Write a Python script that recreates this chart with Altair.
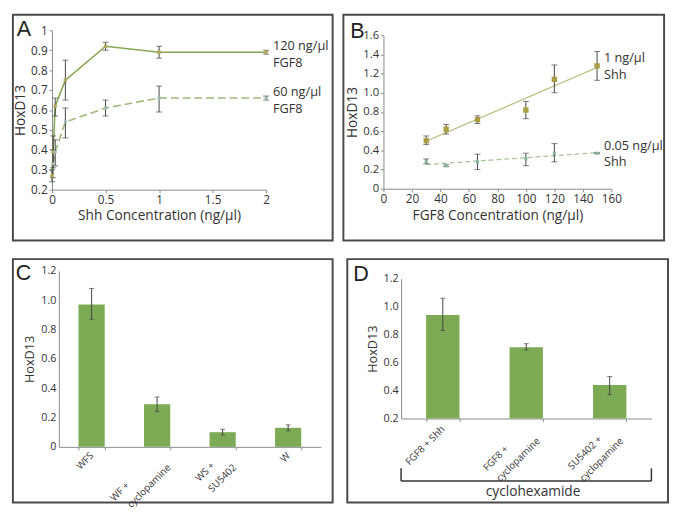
import altair as alt
import pandas as pd

FONT = "Open Sans"
TXT = "#333333"
FRAME = "#4a4a4a"
ERR = "#444444"
BLANK = "\u2800"   # blank glyph used to left-align two-line tick labels

# ---------------- data ----------------
# Panel A
a_x120 = [0, 0.01, 0.03, 0.125, 0.5, 1, 2]
a_y120 = [0.27, 0.39, 0.62, 0.75, 0.92, 0.89, 0.89]
a_lo120 = [0.24, 0.31, 0.57, 0.65, 0.90, 0.86, 0.88]
a_hi120 = [0.30, 0.47, 0.66, 0.85, 0.94, 0.92, 0.90]
a_x60 = [0.01, 0.03, 0.125, 0.5, 1, 2]
a_y60 = [0.33, 0.39, 0.54, 0.61, 0.66, 0.66]
a_lo60 = [0.26, 0.32, 0.46, 0.57, 0.59, 0.65]
a_hi60 = [0.40, 0.45, 0.61, 0.65, 0.72, 0.67]
a_label_text = ["120 ng/µl", "FGF8", "60 ng/µl", "FGF8"]
a_label_y = [0.922, 0.834, 0.691, 0.607]

# Panel B
b_x = [30, 44, 66, 100, 120, 150]
b_y1 = [0.50, 0.62, 0.72, 0.82, 1.14, 1.28]
b_lo1 = [0.46, 0.57, 0.68, 0.73, 1.00, 1.13]
b_hi1 = [0.55, 0.67, 0.76, 0.91, 1.29, 1.43]
b_y05 = [0.28, 0.24, 0.28, 0.31, 0.37, 0.37]
b_lo05 = [0.26, 0.23, 0.20, 0.24, 0.28, 0.365]
b_hi05 = [0.31, 0.25, 0.36, 0.37, 0.47, 0.375]
b_label_text = ["1 ng/µl", "Shh", "0.05 ng/µl", "Shh"]
b_label_y = [1.36, 1.185, 0.445, 0.273]

# Panel C
c_cat = ["WFS", "WF +\ncyclopamine", "WS +\nSU5402", "W"]
c_val = [0.97, 0.29, 0.10, 0.13]
c_lo = [0.87, 0.24, 0.08, 0.11]
c_hi = [1.08, 0.34, 0.12, 0.15]

# Panel D
d_cat = ["FGF8 + Shh", "FGF8 +\ncyclopamine", "SU5402 +\ncyclopamine"]
d_val = [0.94, 0.71, 0.44]
d_lo = [0.83, 0.69, 0.37]
d_hi = [1.06, 0.735, 0.50]

# ---------------- helpers ----------------
one = pd.DataFrame({"k": [0]})
AX = dict(labelOverlap=False, labelFlush=False, labelBound=False)

L = "split(datum.label, '\\n')"
BAND_LABEL = (
    "indexof(datum.label, '\\n') < 0 ? datum.label : "
    f"[pad({L}[0], length({L}[0]) + round(0.8 * (length({L}[1]) - length({L}[0]))), '{BLANK}'), {L}[1]]"
)


def letter(t, x, y):
    return alt.Chart(one).mark_text(
        text=t, font="Liberation Sans", fontSize=22, align="left",
        baseline="alphabetic", color="#222222"
    ).encode(x=alt.value(x), y=alt.value(y))


def errbars(df, xch, yscale, yaxis, lo="lo", hi="hi", cap=6):
    ylo = alt.Y(f"{lo}:Q", scale=yscale, axis=yaxis)
    yhi = alt.Y(f"{hi}:Q", scale=yscale, axis=yaxis)
    r = alt.Chart(df).mark_rule(color=ERR, strokeWidth=1).encode(
        x=xch, y=ylo, y2=alt.Y2(f"{hi}:Q"))
    t1 = alt.Chart(df).mark_tick(color=ERR, orient="horizontal", size=cap, thickness=1).encode(
        x=xch, y=ylo)
    t2 = alt.Chart(df).mark_tick(color=ERR, orient="horizontal", size=cap, thickness=1).encode(
        x=xch, y=yhi)
    return r + t1 + t2


# ---------------- Panel A ----------------
A_W, A_H = 327, 231          # panel (frame) size
A_X0, A_X1, A_Y0, A_Y1 = 40, 259, 16, 179   # plot area inside the frame
dfA120 = pd.DataFrame({"x": a_x120, "y": a_y120, "lo": a_lo120, "hi": a_hi120})
dfA60 = pd.DataFrame({"x": a_x60, "y": a_y60, "lo": a_lo60, "hi": a_hi60})
dfAlab = pd.DataFrame({"x": [2] * 4, "y": a_label_y, "t": a_label_text})

sxA = alt.Scale(domain=[0, 2], nice=False, range=[A_X0, A_X1])
syA = alt.Scale(domain=[0.2, 1], nice=False, range=[A_Y1, A_Y0])
axA = alt.Axis(values=[0, 0.5, 1, 1.5, 2], labelExpr="'' + datum.value",
               title="Shh Concentration (ng/µl)", titleFontSize=14,
               labelFontSize=12, labelPadding=2, titlePadding=4,
               offset=-(A_H - A_Y1), **AX)
ayA = alt.Axis(values=[0.2, 0.3, 0.4, 0.5, 0.6, 0.7, 0.8, 0.9, 1.0],
               labelExpr="'' + datum.value", title="HoxD13",
               titleFontSize=14, labelFontSize=12, titlePadding=3,
               labelPadding=2, offset=-A_X0, **AX)
xA = alt.X("x:Q", scale=sxA, axis=axA)
yA = alt.Y("y:Q", scale=syA, axis=ayA)

lineA120 = alt.Chart(dfA120).mark_line(color="#86a652", strokeWidth=1.6).encode(x=xA, y=yA)
lineA60 = alt.Chart(dfA60).mark_line(color="#9fba7c", strokeWidth=1.6, strokeDash=[8, 4]).encode(x=xA, y=yA)
ptA120 = alt.Chart(dfA120).mark_square(color="#b3a85a", size=12, opacity=1).encode(x=xA, y=yA)
ptA60 = alt.Chart(dfA60).mark_square(color="#9db7b0", size=10, opacity=1).encode(x=xA, y=yA)
errA = errbars(dfA120, xA, syA, ayA) + errbars(dfA60, xA, syA, ayA)
labA = alt.Chart(dfAlab).mark_text(align="left", baseline="middle", dx=7, fontSize=13,
                                   font=FONT, color=TXT).encode(x=xA, y=yA, text="t:N")

panelA = alt.layer(
    letter("A", 4, 22), lineA120, lineA60, errA, ptA120, ptA60, labA
).properties(width=A_W, height=A_H)

# ---------------- Panel B ----------------
B_W, B_H = 328, 231
B_X0, B_X1, B_Y0, B_Y1 = 41, 274, 21, 178
dfB1 = pd.DataFrame({"x": b_x, "y": b_y1, "lo": b_lo1, "hi": b_hi1})
dfB05 = pd.DataFrame({"x": b_x, "y": b_y05, "lo": b_lo05, "hi": b_hi05})
dfBlab = pd.DataFrame({"x": [150] * 4, "y": b_label_y, "t": b_label_text})

sxB = alt.Scale(domain=[0, 160], nice=False, range=[B_X0, B_X1])
syB = alt.Scale(domain=[0, 1.6], nice=False, range=[B_Y1, B_Y0])
axB = alt.Axis(values=list(range(0, 161, 20)), format="d",
               title="FGF8 Concentration (ng/µl)", titleFontSize=14,
               labelFontSize=12, labelPadding=2, titlePadding=4,
               offset=-(B_H - B_Y1), **AX)
ayB = alt.Axis(values=[0, 0.2, 0.4, 0.6, 0.8, 1.0, 1.2, 1.4, 1.6],
               labelExpr="datum.value == 0 ? '0' : format(datum.value, '.1f')",
               title="HoxD13", titleFontSize=14, labelFontSize=11.5,
               titlePadding=3, labelPadding=2, offset=-B_X0, **AX)
xB = alt.X("x:Q", scale=sxB, axis=axB)
yB = alt.Y("y:Q", scale=syB, axis=ayB)

trB1 = alt.Chart(dfB1).transform_regression("x", "y", extent=[30, 150]).mark_line(
    color="#b9b77a", strokeWidth=1.2).encode(x=xB, y=yB)
trB05 = alt.Chart(dfB05).transform_regression("x", "y", extent=[30, 150]).mark_line(
    color="#a6c49c", strokeWidth=1.3, strokeDash=[5, 3]).encode(x=xB, y=yB)
ptB1 = alt.Chart(dfB1).mark_square(color="#aa9e45", size=30, opacity=1).encode(x=xB, y=yB)
ptB05 = alt.Chart(dfB05).mark_square(color="#86b3a0", size=10, opacity=1).encode(x=xB, y=yB)
errB = errbars(dfB1, xB, syB, ayB) + errbars(dfB05, xB, syB, ayB)
labB = alt.Chart(dfBlab).mark_text(align="left", baseline="middle", dx=7, fontSize=13,
                                   font=FONT, color=TXT).encode(x=xB, y=yB, text="t:N")

panelB = alt.layer(
    letter("B", 7, 24), trB1, trB05, errB, ptB1, ptB05, labB
).properties(width=B_W, height=B_H)

# ---------------- Panel C ----------------
C_W, C_H = 327, 249
C_X0, C_X1, C_Y0, C_Y1 = 47, 315, 12, 192
dfC = pd.DataFrame({"c": c_cat, "v": c_val, "lo": c_lo, "hi": c_hi})
sxC = alt.Scale(paddingInner=0.6, paddingOuter=0.3, range=[C_X0, C_X1])
axC = alt.Axis(title=None, labelAngle=-45, labelFontSize=10, labelExpr=BAND_LABEL,
               labelAlign="right", labelBaseline="middle", labelLineHeight=17,
               tickBand="extent", labelPadding=4, tickSize=3,
               offset=-(C_H - C_Y1), **AX)
syC = alt.Scale(domain=[0, 1.2], nice=False, range=[C_Y1, C_Y0])
ayC = alt.Axis(values=[0, 0.2, 0.4, 0.6, 0.8, 1.0, 1.2],
               labelExpr="datum.value == 0 ? '0' : format(datum.value, '.1f')",
               title="HoxD13", titleFontSize=13, labelFontSize=11, titlePadding=4,
               labelPadding=3, tickSize=0, offset=-C_X0, **AX)
xC = alt.X("c:N", sort=c_cat, scale=sxC, axis=axC)
yC = alt.Y("v:Q", scale=syC, axis=ayC)
barC = alt.Chart(dfC).mark_bar(color="#7dab55").encode(x=xC, y=yC)
errC = errbars(dfC, xC, syC, ayC, cap=5)

panelC = alt.layer(letter("C", 3, 21), barC, errC).properties(width=C_W, height=C_H)

# ---------------- Panel D ----------------
D_W, D_H = 328, 249
D_X0, D_X1, D_Y0, D_Y1 = 55, 311, 20, 163
dfD = pd.DataFrame({"c": d_cat, "v": d_val, "lo": d_lo, "hi": d_hi})
sxD = alt.Scale(paddingInner=0.6, paddingOuter=0.3, range=[D_X0, D_X1])
axD = alt.Axis(title=None, labelAngle=-45, labelFontSize=10, labelExpr=BAND_LABEL,
               labelAlign="right", labelBaseline="middle", labelLineHeight=17,
               tickBand="extent", labelPadding=6, tickSize=3,
               offset=-(D_H - D_Y1), **AX)
syD = alt.Scale(domain=[0.2, 1.2], nice=False, range=[D_Y1, D_Y0])
ayD = alt.Axis(values=[0.2, 0.4, 0.6, 0.8, 1.0, 1.2], format=".1f",
               title="HoxD13", titleFontSize=13, labelFontSize=11, titlePadding=4,
               labelPadding=3, tickSize=0, offset=-D_X0, **AX)
xD = alt.X("c:N", sort=d_cat, scale=sxD, axis=axD)
yD = alt.Y("v:Q", scale=syD, axis=ayD)
barD = alt.Chart(dfD).mark_bar(color="#7dab55").encode(x=xD, y=yD, y2=alt.datum(0.2))
errD = errbars(dfD, xD, syD, ayD, cap=5)

BR_TOP, BR_BOT = 214, 227
bracket_h = alt.Chart(one).mark_rule(color="#333333", strokeWidth=1.5).encode(
    x=alt.value(D_X0), x2=alt.value(D_X1), y=alt.value(BR_BOT))
bracket_l = alt.Chart(one).mark_rule(color="#333333", strokeWidth=1.5).encode(
    x=alt.value(D_X0), y=alt.value(BR_TOP), y2=alt.value(BR_BOT))
bracket_r = alt.Chart(one).mark_rule(color="#333333", strokeWidth=1.5).encode(
    x=alt.value(D_X1), y=alt.value(BR_TOP), y2=alt.value(BR_BOT))
bracket_t = alt.Chart(one).mark_text(text="cyclohexamide", font=FONT, fontSize=14,
                                     color=TXT, align="center", baseline="middle").encode(
    x=alt.value(190), y=alt.value(238))

panelD = alt.layer(
    letter("D", 6, 22), barD, errD, bracket_h, bracket_l, bracket_r, bracket_t
).properties(width=D_W, height=D_H)

chart = alt.vconcat(
    alt.hconcat(panelA, panelB, spacing=9),
    alt.hconcat(panelC, panelD, spacing=9),
    spacing=17,
).properties(padding=0).configure_view(stroke=FRAME, strokeWidth=2).configure_axis(
    grid=False, domainColor="#8a8a8a", tickColor="#8a8a8a", labelColor=TXT,
    titleColor=TXT, labelFont=FONT, titleFont=FONT, titleFontWeight="normal",
    tickSize=3
)

chart.save("out.html", embed_options={"renderer": "svg", "actions": False})
